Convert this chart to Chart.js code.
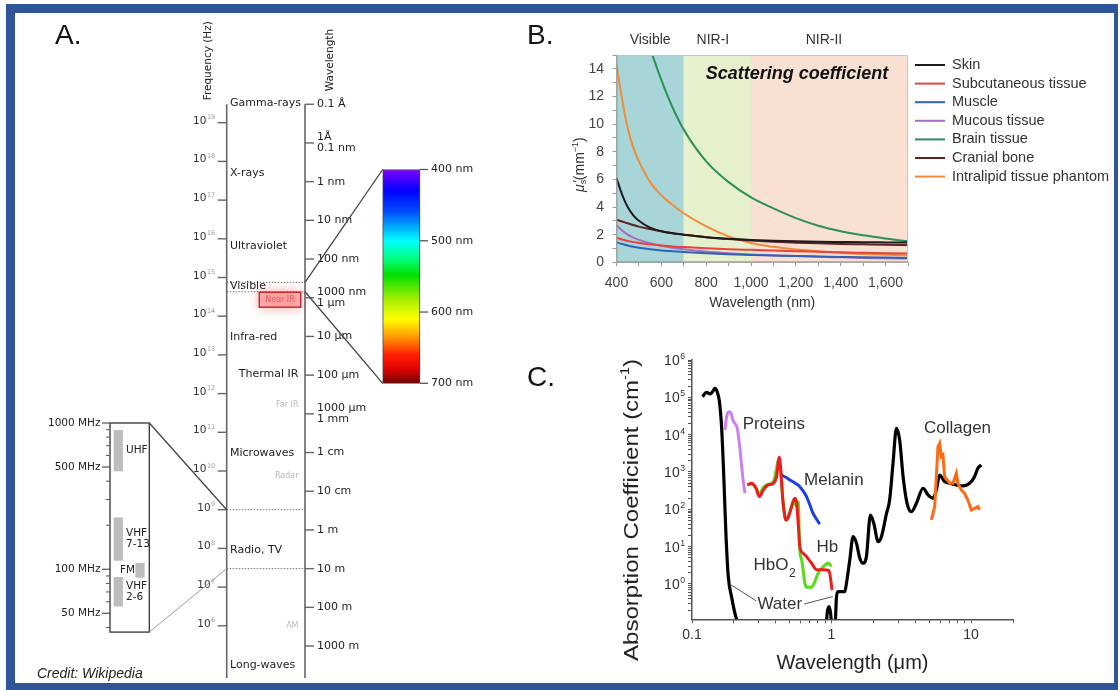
<!DOCTYPE html>
<html>
<head>
<meta charset="utf-8">
<title>Optical windows of tissue</title>
<script src="https://cdn.jsdelivr.net/npm/chart.js@4.4.1/dist/chart.umd.min.js"></script>
<style>
  html, body { margin: 0; padding: 0; background: #fff; }
  #page { position: relative; width: 1120px; height: 690px; overflow: hidden; background: #fff; }
  #page canvas { position: absolute; }
  #frame { position: absolute; left: 6px; top: 4px; width: 1112px; height: 686px; box-sizing: border-box;
           border: solid #2e5597; border-width: 9px 4px 7px 9px; pointer-events: none; }
  .tag { position: absolute; font: 28px "Liberation Sans", Arial, sans-serif; line-height: 28px; color: #111; }
  #credit { position: absolute; left: 37px; top: 666px; font: italic 14px "Liberation Sans", Arial, sans-serif;
            line-height: 14px; color: #222; }
</style>
</head>
<body>
<div id="page">
  <canvas id="spectrum" width="520" height="690" style="left:0;top:0"></canvas>
  <canvas id="scatter" width="580" height="300" style="left:540px;top:20px"></canvas>
  <canvas id="absorb" width="580" height="355" style="left:540px;top:330px"></canvas>
  <div class="tag" style="left:55px;top:21px">A.</div>
  <div class="tag" style="left:527px;top:21px">B.</div>
  <div class="tag" style="left:527px;top:363px">C.</div>
  <div id="credit">Credit: Wikipedia</div>
  <div id="frame"></div>
</div>
<script>
const SANS = '"Liberation Sans", Arial, sans-serif';
const DV = '"DejaVu Sans", sans-serif';
Chart.defaults.font.family = SANS;
Chart.defaults.color = '#444';

// ---------- A. electromagnetic spectrum ----------
const C_LIGHT = 2.998e8;
const FREQ_EXP = [19, 18, 17, 16, 15, 14, 13, 12, 11, 10, 9, 8, 7, 6];
const WAVE_M = [1e-11, 1e-10, 1e-9, 1e-8, 1e-7, 1e-6, 1e-5, 1e-4, 1e-3, 1e-2, 1e-1, 1, 10, 100, 1000];
const WAVE_LABELS = [['0.1 Å'], ['1Å', '0.1 nm'], ['1 nm'], ['10 nm'], ['100 nm'], ['1000 nm', '1 μm'],
  ['10 μm'], ['100 μm'], ['1000 μm', '1 mm'], ['1 cm'], ['10 cm'], ['1 m'], ['10 m'], ['100 m'], ['1000 m']];
const AXIS_LOGHZ = [4.65, Math.log10(C_LIGHT / 1e-11)];
const BAND_NAMES = ['Gamma-rays', 'X-rays', 'Ultraviolet', 'Visible', 'Infra-red', 'Thermal IR', 'Microwaves', 'Radio, TV', 'Long-waves'];
const BAND_LOGHZ = [19.50, 17.69, 15.81, 14.78, 13.47, 12.50, 10.46, 7.96, 4.99];
const BAND_RIGHT = [false, false, false, false, false, true, false, false, false];
const FAINT_NAMES = ['Far IR', 'Radar', 'AM'];
const FAINT_LOGHZ = [11.70, 9.87, 6.0];
const VISIBLE_NM = [400, 700];
const NEAR_IR_M = [0.72e-6, 1.75e-6];
const SPECTRUM_TICKS = [400, 500, 600, 700];
const SPECTRUM_NM = [400, 430, 460, 500, 525, 548, 585, 610, 635, 660, 680, 700];
const SPECTRUM_RGB = ['#8000ff', '#0000ff', '#0050ff', '#00ffff', '#00ff80', '#00e000', '#b0f000',
  '#ffff00', '#ff9900', '#ff2000', '#e00000', '#700000'];
const RADIO_HZ = [1e9, 3e7];
const INSET_MHZ = [37.2, 1000];
const INSET_LABELS = [1000, 500, 100, 50];
const INSET_MINOR = [900, 800, 700, 600, 400, 300, 200, 90, 80, 70, 60, 40];
const RADIO_BANDS = ['UHF', 'VHF 7-13', 'FM', 'VHF 2-6'];
const RADIO_LO = [470, 115, 88, 56];
const RADIO_HI = [890, 225, 110, 88];
const RADIO_COL = [0, 0, 1, 0];

// horizontal layout of the diagram (x scale runs 0..520)
const COL = { insetL: 110, insetR: 149.3, band0: 118.3, band1: 140, freqTitle: 208, freq: 226.7,
  nirL: 259.3, nirR: 300.7, wave: 305, waveTitle: 330, barL: 382.7, barR: 420 };

// vertical placement: value at two pixel rows of the 690px canvas -> scale min/max
function pxRange(v1, p1, v2, p2, h) {
  const k = (v2 - v1) / (p2 - p1);
  const a = v1 - k * p1, b = v1 + k * (h - p1);
  return [Math.min(a, b), Math.max(a, b)];
}
const fR = pxRange(19, 122.7, 6, 625.8, 690);
const mR = pxRange(3, 423, Math.log10(50), 613.3, 690);
const nR = pxRange(400, 169.5, 700, 383.3, 690);

function rainbow(chart) {
  const nm = chart.scales.nm;
  if (!nm) return '#888';
  const y0 = nm.getPixelForValue(400), y1 = nm.getPixelForValue(700);
  if (!isFinite(y0) || !isFinite(y1) || y0 === y1) return '#888';
  const g = chart.ctx.createLinearGradient(0, y0, 0, y1);
  SPECTRUM_NM.forEach((v, i) => g.addColorStop((v - 400) / 300, SPECTRUM_RGB[i]));
  return g;
}

function drawPower(ctx, fam, base, exp, xRight, y, size, color, expColor) {
  ctx.save();
  ctx.textAlign = 'left';
  ctx.textBaseline = 'alphabetic';
  const small = size * 0.62;
  ctx.font = small + 'px ' + fam;
  const ew = ctx.measureText(exp).width;
  ctx.font = size + 'px ' + fam;
  const bw = ctx.measureText(base).width;
  const x0 = xRight - ew - bw - 0.5;
  ctx.fillStyle = color;
  ctx.fillText(base, x0, y);
  ctx.font = small + 'px ' + fam;
  ctx.fillStyle = expColor;
  ctx.fillText(exp, x0 + bw + 0.5, y - size * 0.42);
  ctx.restore();
}

const diagram = {
  id: 'diagram',
  afterDraw(chart) {
    const { ctx } = chart;
    const s = chart.scales;
    const X = v => s.x.getPixelForValue(v);
    const F = v => s.f.getPixelForValue(v);
    const W = m => F(Math.log10(C_LIGHT / m));
    const M = v => s.mhz.getPixelForValue(v);
    const N = v => s.nm.getPixelForValue(v);
    const xf = X(COL.freq), xw = X(COL.wave);

    const line = (x1, y1, x2, y2, color, width, dash) => {
      ctx.save();
      ctx.strokeStyle = color; ctx.lineWidth = width;
      if (dash) ctx.setLineDash(dash);
      ctx.beginPath(); ctx.moveTo(x1, y1); ctx.lineTo(x2, y2); ctx.stroke();
      ctx.restore();
    };
    const text = (str, x, y, font, color, align) => {
      ctx.save();
      ctx.font = font; ctx.fillStyle = color;
      ctx.textAlign = align || 'left'; ctx.textBaseline = 'middle';
      ctx.fillText(str, x, y);
      ctx.restore();
    };
    const f11 = '11px ' + DV;

    // dotted limits of visible light and of the zoomed radio range
    VISIBLE_NM.forEach(v => line(xf, W(v * 1e-9), xw, W(v * 1e-9), '#777', 1, [1.5, 1.5]));
    RADIO_HZ.forEach(hz => line(xf, F(Math.log10(hz)), xw, F(Math.log10(hz)), '#777', 1, [1.5, 1.5]));

    // near-infrared highlight
    const ny1 = W(NEAR_IR_M[0]), ny2 = W(NEAR_IR_M[1]);
    const nx1 = X(COL.nirL), nx2 = X(COL.nirR);
    ctx.save();
    ctx.shadowColor = 'rgba(255,30,30,0.85)';
    ctx.shadowBlur = 12;
    ctx.fillStyle = 'rgba(255,140,140,0.55)';
    ctx.fillRect(nx1, ny1, nx2 - nx1, ny2 - ny1);
    ctx.restore();
    ctx.save();
    ctx.strokeStyle = '#c62828'; ctx.lineWidth = 1.5;
    ctx.strokeRect(nx1, ny1, nx2 - nx1, ny2 - ny1);
    ctx.restore();
    text('Near IR', (nx1 + nx2) / 2, (ny1 + ny2) / 2, '8px ' + DV, 'rgba(185,90,90,0.75)', 'center');

    // frequency and wavelength axes
    line(xf, F(AXIS_LOGHZ[1]), xf, F(AXIS_LOGHZ[0]), '#666', 1.6);
    line(xw, F(AXIS_LOGHZ[1]), xw, F(AXIS_LOGHZ[0]), '#666', 1.6);
    FREQ_EXP.forEach(e => {
      const y = F(e);
      line(xf - 9, y, xf, y, '#666', 1.4);
      drawPower(ctx, DV, '10', String(e), xf - 11.5, y + 1, 10.5, '#333', '#999');
    });
    WAVE_M.forEach((m, i) => {
      const y = W(m);
      line(xw, y, xw + 9, y, '#666', 1.4);
      const lab = WAVE_LABELS[i];
      if (lab.length === 1) text(lab[0], xw + 12, y, f11, '#222');
      else { text(lab[0], xw + 12, y - 5.5, f11, '#222'); text(lab[1], xw + 12, y + 5, f11, '#222'); }
    });

    // axis titles
    [['Frequency (Hz)', COL.freqTitle, 20.6], ['Wavelength', COL.waveTitle, 20.62]].forEach(([t, cx, lf]) => {
      ctx.save();
      ctx.translate(X(cx), F(lf)); ctx.rotate(-Math.PI / 2);
      ctx.font = '10.5px ' + DV; ctx.fillStyle = '#222';
      ctx.textAlign = 'center'; ctx.textBaseline = 'middle';
      ctx.fillText(t, 0, 0);
      ctx.restore();
    });

    // band names
    BAND_NAMES.forEach((n, i) => {
      const y = F(BAND_LOGHZ[i]);
      if (BAND_RIGHT[i]) text(n, xw - 6.5, y, f11, '#222', 'right');
      else text(n, xf + 3.3, y, f11, '#222', 'left');
    });
    FAINT_NAMES.forEach((n, i) => text(n, xw - 6.5, F(FAINT_LOGHZ[i]), '8px ' + DV, '#b8b8b8', 'right'));

    // visible spectrum scale
    const xr = X(COL.barR);
    SPECTRUM_TICKS.forEach(v => {
      const y = N(v);
      line(xr, y, xr + 8, y, '#555', 1.3);
      text(v + ' nm', xr + 11, y, f11, '#222');
    });
    line(xw, W(VISIBLE_NM[0] * 1e-9), X(COL.barL), N(VISIBLE_NM[0]), '#444', 1.3);
    line(xw, W(VISIBLE_NM[1] * 1e-9), X(COL.barL), N(VISIBLE_NM[1]), '#444', 1.3);

    // TV / FM inset
    const xl = X(COL.insetL), xi = X(COL.insetR);
    ctx.save();
    ctx.strokeStyle = '#333'; ctx.lineWidth = 1.3;
    ctx.strokeRect(xl, M(INSET_MHZ[1]), xi - xl, M(INSET_MHZ[0]) - M(INSET_MHZ[1]));
    ctx.restore();
    INSET_MINOR.forEach(v => line(xl - 4, M(v), xl, M(v), '#555', 1));
    INSET_LABELS.forEach(v => {
      line(xl - 8, M(v), xl, M(v), '#555', 1.2);
      text(v + ' MHz', xl - 9.5, M(v), '10.5px ' + DV, '#222', 'right');
    });
    RADIO_BANDS.forEach((b, i) => {
      const y = M(Math.sqrt(RADIO_LO[i] * RADIO_HI[i]));
      const parts = b.split(' ');
      const right = RADIO_COL[i] === 1;
      const x = right ? X(COL.band1) - 5 : X(COL.band0) + 7.7;
      const al = right ? 'right' : 'left';
      if (parts.length === 1) text(parts[0], x, y, '10.5px ' + DV, '#222', al);
      else { text(parts[0], x, y - 5.5, '10.5px ' + DV, '#222', al); text(parts[1], x, y + 5.5, '10.5px ' + DV, '#222', al); }
    });
    line(xi, M(INSET_MHZ[1]), xf, F(Math.log10(RADIO_HZ[0])), '#444', 1.3);
    line(xi, M(INSET_MHZ[0]), xf, F(Math.log10(RADIO_HZ[1])), '#999', 1);
  }
};

new Chart(document.getElementById('spectrum'), {
  type: 'scatter',
  data: {
    datasets: [
      { type: 'bar', label: 'TV and FM bands', yAxisID: 'mhz', grouped: false, barThickness: 8.6,
        backgroundColor: '#bdbdbd',
        data: RADIO_BANDS.map((b, i) => ({ x: RADIO_COL[i] ? COL.band1 : COL.band0, y: [RADIO_LO[i], RADIO_HI[i]] })) },
      { type: 'bar', label: 'Visible light', yAxisID: 'nm', grouped: false, barThickness: 37.3,
        borderColor: '#444', borderWidth: 1, borderSkipped: false,
        backgroundColor: c => rainbow(c.chart),
        data: [{ x: (COL.barL + COL.barR) / 2, y: [SPECTRUM_TICKS[0], SPECTRUM_TICKS[3]] }] }
    ]
  },
  options: {
    responsive: false, animation: false, devicePixelRatio: 1,
    layout: { padding: 0 },
    plugins: { legend: { display: false }, tooltip: { enabled: false } },
    scales: {
      x: { type: 'linear', min: 0, max: 520, offset: false, display: false },
      y: { type: 'linear', display: false },
      f: { type: 'linear', axis: 'y', min: fR[0], max: fR[1], display: false },
      mhz: { type: 'logarithmic', axis: 'y', min: 10 ** mR[0], max: 10 ** mR[1], display: false },
      nm: { type: 'linear', axis: 'y', reverse: true, min: nR[0], max: nR[1], display: false }
    }
  },
  plugins: [diagram]
});

// ---------- B. reduced scattering coefficient ----------
const NM = [400, 425, 450, 475, 500, 550, 600, 650, 700, 800, 900, 1000, 1100, 1200, 1300, 1400, 1500, 1600, 1700];
const SKIN =         [6.1, 4.9, 4.0, 3.4, 3.0, 2.5, 2.25, 2.1, 2.0, 1.82, 1.7, 1.62, 1.56, 1.52, 1.49, 1.47, 1.45, 1.44, 1.43];
const SUBCUTANEOUS = [1.78, 1.65, 1.55, 1.46, 1.4, 1.3, 1.22, 1.15, 1.1, 1.02, 0.95, 0.9, 0.85, 0.8, 0.76, 0.72, 0.69, 0.66, 0.63];
const MUSCLE =       [1.45, 1.32, 1.21, 1.12, 1.05, 0.94, 0.86, 0.8, 0.75, 0.66, 0.59, 0.53, 0.49, 0.45, 0.42, 0.39, 0.36, 0.34, 0.32];
const MUCOUS =       [2.7, 2.3, 2.0, 1.78, 1.62, 1.38, 1.2, 1.06, 0.95, 0.78, 0.66, 0.57, 0.5, 0.45, 0.4, 0.36, 0.32, 0.29, 0.27];
const BRAIN =        [30, 26, 23, 20.5, 18.3, 15.5, 13.2, 11.2, 9.6, 7.3, 5.8, 4.7, 3.9, 3.2, 2.65, 2.25, 1.95, 1.72, 1.52];
const CRANIAL =      [3.08, 2.95, 2.82, 2.7, 2.58, 2.4, 2.24, 2.1, 2.0, 1.82, 1.68, 1.57, 1.48, 1.42, 1.37, 1.33, 1.3, 1.27, 1.25];
const INTRALIPID =   [14.3, 11.8, 9.7, 8.3, 7.3, 5.8, 4.85, 4.15, 3.55, 2.6, 1.88, 1.4, 1.12, 0.92, 0.8, 0.68, 0.6, 0.54, 0.5];
const TISSUES = ['Skin', 'Subcutaneous tissue', 'Muscle', 'Mucous tissue', 'Brain tissue', 'Cranial bone', 'Intralipid tissue phantom'];
const TISSUE_DATA = [SKIN, SUBCUTANEOUS, MUSCLE, MUCOUS, BRAIN, CRANIAL, INTRALIPID];
const TISSUE_COLORS = ['#1f1a1c', '#e5433d', '#2f63b5', '#a56bc3', '#2e9058', '#5e2326', '#f08c3a'];
const WINDOWS = ['Visible', 'NIR-I', 'NIR-II'];
const WINDOW_FROM = [400, 700, 1000];
const WINDOW_TO = [700, 1000, 1700];
const WINDOW_LABEL_NM = [550, 830, 1325];
const WINDOW_FILL = ['#a8d6d8', '#e6f0cd', '#f8e0d2'];

const windowsPlugin = {
  id: 'windows',
  beforeDatasetsDraw(chart) {
    const { ctx, chartArea: a, scales: { x } } = chart;
    ctx.save();
    WINDOWS.forEach((w, i) => {
      const x1 = x.getPixelForValue(WINDOW_FROM[i]), x2 = x.getPixelForValue(WINDOW_TO[i]);
      ctx.fillStyle = WINDOW_FILL[i];
      ctx.fillRect(x1, a.top, x2 - x1, a.bottom - a.top);
    });
    ctx.restore();
  },
  afterDraw(chart) {
    const { ctx, chartArea: a, scales: { x, y } } = chart;
    ctx.save();
    // plot frame
    ctx.lineWidth = 1;
    ctx.strokeStyle = '#c4c4c4';
    ctx.beginPath(); ctx.moveTo(a.left, a.top + 0.5); ctx.lineTo(a.right - 0.5, a.top + 0.5); ctx.lineTo(a.right - 0.5, a.bottom); ctx.stroke();
    ctx.strokeStyle = '#999';
    ctx.beginPath(); ctx.moveTo(a.left + 0.5, a.top); ctx.lineTo(a.left + 0.5, a.bottom - 0.5); ctx.lineTo(a.right, a.bottom - 0.5); ctx.stroke();

    // window names above the plot
    ctx.font = '14px ' + SANS; ctx.fillStyle = '#333';
    ctx.textAlign = 'center'; ctx.textBaseline = 'middle';
    WINDOWS.forEach((w, i) => ctx.fillText(w, x.getPixelForValue(WINDOW_LABEL_NM[i]), a.top - 15));

    // panel title
    ctx.font = 'italic bold 18px ' + SANS; ctx.fillStyle = '#111';
    ctx.fillText('Scattering coefficient', x.getPixelForValue(1205), y.getPixelForValue(13.6));

    // legend
    ctx.textAlign = 'left';
    chart.data.datasets.forEach((d, i) => {
      const ly = a.top + 10 + i * 18.6;
      ctx.strokeStyle = d.borderColor; ctx.lineWidth = 2;
      ctx.beginPath(); ctx.moveTo(a.right + 7, ly); ctx.lineTo(a.right + 37, ly); ctx.stroke();
      ctx.font = '14.5px ' + SANS; ctx.fillStyle = '#333';
      ctx.fillText(d.label, a.right + 44, ly);
    });

    // y title  mu_s'(mm^-1)
    const parts = [
      { t: 'μ', f: 'italic 14px ' + SANS, dy: 0 },
      { t: 's', f: '9.5px ' + SANS, dy: 3.5 },
      { t: '′', f: '13px ' + SANS, dy: -2, back: 3 },
      { t: '(mm', f: '14px ' + SANS, dy: 0 },
      { t: '−1', f: '9px ' + SANS, dy: -4.5 },
      { t: ')', f: '14px ' + SANS, dy: 0 }
    ];
    ctx.translate(a.left - 36.5, (a.top + a.bottom) / 2 + 6);
    ctx.rotate(-Math.PI / 2);
    let total = 0;
    parts.forEach(p => { ctx.font = p.f; p.w = ctx.measureText(p.t).width - (p.back || 0); total += p.w; });
    let px = -total / 2;
    ctx.fillStyle = '#333'; ctx.textBaseline = 'middle';
    parts.forEach(p => { ctx.font = p.f; ctx.fillText(p.t, px - (p.back || 0), p.dy); px += p.w; });
    ctx.restore();
  }
};

new Chart(document.getElementById('scatter'), {
  type: 'line',
  data: {
    datasets: TISSUES.map((t, i) => ({
      label: t,
      data: NM.map((nm, k) => ({ x: nm, y: TISSUE_DATA[i][k] })),
      borderColor: TISSUE_COLORS[i], borderWidth: 2, pointRadius: 0,
      cubicInterpolationMode: 'monotone', fill: false
    }))
  },
  options: {
    responsive: false, animation: false, devicePixelRatio: 1,
    layout: { padding: { left: 0, top: 35, right: 212, bottom: 0 } },
    plugins: { legend: { display: false }, tooltip: { enabled: false } },
    scales: {
      x: {
        type: 'linear', min: 400, max: 1700,
        afterFit: sc => { sc.height = 57.7; },
        grid: { drawOnChartArea: false, drawTicks: true, tickLength: 4, color: '#999' },
        border: { display: true, color: '#999' },
        ticks: { stepSize: 100, autoSkip: false, maxRotation: 0, padding: 8, color: '#444', font: { size: 14 },
          callback: v => (v % 200 === 0 && v <= 1600) ? v.toLocaleString('en-US') : '' },
        title: { display: true, text: 'Wavelength (nm)', color: '#333', font: { size: 14 }, padding: { top: 0, bottom: 8 } }
      },
      y: {
        type: 'linear', min: 0, max: 15,
        afterFit: sc => { sc.width = 76.5; },
        grid: { drawOnChartArea: false, drawTicks: true, tickLength: 4, color: '#999' },
        border: { display: true, color: '#999' },
        ticks: { stepSize: 1, autoSkip: false, padding: 8.5, color: '#444', font: { size: 14 },
          callback: v => (v % 2 === 0 && v <= 14) ? String(v) : '' }
      }
    }
  },
  plugins: [windowsPlugin]
});

// ---------- C. absorption spectra ----------
const WATER_UV_UM = [0.119, 0.127, 0.135, 0.141, 0.146, 0.152, 0.157, 0.163, 0.169, 0.175, 0.182, 0.192, 0.206, 0.215];
const WATER_UV_ABS = [1.04e5, 1.36e5, 1.23e5, 1.45e5, 1.74e5, 1.36e5, 8.1e4, 1.58e4, 750, 22.7, 1.57, 0.457, 0.133, 0.09];
const WATER_IR_UM = [0.92, 0.931, 0.961, 0.985, 1.005, 1.06, 1.086, 1.115, 1.245, 1.28, 1.352, 1.429, 1.51, 1.595, 1.684,
  1.779, 1.9, 2.01, 2.16, 2.28, 2.48, 2.61, 2.76, 2.92, 3.08, 3.26, 3.48, 3.74, 4.06, 4.53, 4.92, 5.34, 5.64, 5.96, 6.47,
  7.03, 7.85, 8.75, 9.77, 10.6, 11.2, 11.85];
const WATER_IR_ABS = [0.08, 0.164, 0.247, 0.164, 0.08, 0.08, 0.458, 0.62, 0.62, 1.04, 4.4, 18.5, 12.3, 4.9, 3.6,
  5.4, 70, 42, 13.6, 18.5, 78, 178, 1700, 1.48e4, 7200, 750, 145, 86, 145, 366, 242, 197, 330, 830, 551,
  498, 449, 422, 498, 750, 1260, 1540];
const PROTEIN_UM = [0.172, 0.177, 0.184, 0.19, 0.196, 0.203, 0.211, 0.221, 0.231, 0.24];
const PROTEIN_ABS = [1.33e4, 3.03e4, 4.13e4, 3.88e4, 2.47e4, 2.01e4, 1.48e4, 3900, 750, 268];
const HB_UM = [0.249, 0.267, 0.287, 0.304, 0.325, 0.352, 0.383, 0.404, 0.422, 0.431, 0.446, 0.456, 0.471, 0.49, 0.515,
  0.546, 0.562, 0.577, 0.593, 0.626, 0.662, 0.719, 0.781, 0.871, 0.958, 1.01];
const HB_ABS = [449, 498, 374, 219, 330, 449, 498, 750, 2470, 1390, 219, 96, 52, 60, 110,
  197, 150, 42, 10, 6.6, 5.4, 3.6, 2.4, 2.4, 2.3, 0.69];
const HBO2_UM = [0.249, 0.267, 0.287, 0.304, 0.325, 0.352, 0.383, 0.404, 0.416, 0.431, 0.446, 0.456, 0.471, 0.5, 0.542,
  0.558, 0.577, 0.593, 0.61, 0.626, 0.644, 0.668, 0.719, 0.759, 0.802, 0.871, 0.946, 1.0];
const HBO2_ABS = [449, 480, 380, 260, 390, 470, 540, 1300, 2100, 1200, 219, 96, 52, 80, 190,
  120, 160, 8.1, 4.5, 2.4, 1.04, 0.81, 0.81, 1.15, 1.93, 2.9, 3.6, 3.0];
const MELANIN_UM = [0.438, 0.47, 0.503, 0.55, 0.593, 0.63, 0.662, 0.7, 0.738, 0.78, 0.824];
const MELANIN_ABS = [830, 720, 611, 500, 404, 300, 219, 130, 78, 55, 40];
const COLLAGEN_UM = [5.2, 5.49, 5.64, 5.8, 5.96, 6.12, 6.29, 6.47, 7.03, 7.43, 7.85, 8.06, 8.52, 8.99, 9.5, 10.04, 10.6, 11.2, 11.5];
const COLLAGEN_ABS = [52, 118, 750, 4760, 5870, 2570, 2850, 750, 498, 498, 922, 498, 330, 268, 178, 96, 106, 118, 96];
const UM_RANGE = [0.1, 20];
const ABS_RANGE = [0.113, 1e6];
const LABEL_TEXT = ['Proteins', 'Melanin', 'Collagen', 'Hb', 'HbO2', 'Water'];
const LABEL_UM = [0.386, 1.039, 8.0, 0.933, 0.368, 0.426];
const LABEL_ABS = [1.93e4, 611, 1.5e4, 9.8, 3.2, 0.29];
const WATER_POINT_UM = [0.186, 1.02];
const WATER_POINT_ABS = [1.0, 0.46];

function pairs(xs, ys) { return xs.map((x, i) => ({ x, y: ys[i] })); }
function logTicks(lo, hi) {
  const t = [];
  for (let e = -1; e <= 6; e++) for (let m = 1; m < 10; m++) {
    const v = m * 10 ** e;
    if (v >= lo * 0.999 && v <= hi * 1.001) t.push({ value: v });
  }
  return t;
}

const absorbLabels = {
  id: 'absorbLabels',
  afterDraw(chart) {
    const { ctx, chartArea: a, scales: { x, y } } = chart;
    ctx.save();
    // decade labels on the y axis
    for (let e = 0; e <= 6; e++) drawPower(ctx, SANS, '10', String(e), a.left - 7, y.getPixelForValue(10 ** e) + 5, 14, '#333', '#333');

    // curve names
    ctx.fillStyle = '#333'; ctx.textBaseline = 'middle'; ctx.textAlign = 'center';
    let waterBox = null;
    LABEL_TEXT.forEach((t, i) => {
      const lx = x.getPixelForValue(LABEL_UM[i]), ly = y.getPixelForValue(LABEL_ABS[i]);
      ctx.font = '17px ' + SANS;
      if (t === 'HbO2') {
        const w = ctx.measureText('HbO').width;
        ctx.fillText('HbO', lx, ly);
        ctx.font = '12px ' + SANS; ctx.textAlign = 'left';
        ctx.fillText('2', lx + w / 2 + 0.5, ly + 9);
        ctx.textAlign = 'center';
      } else {
        ctx.fillText(t, lx, ly);
      }
      if (t === 'Water') waterBox = { lx, ly, w: ctx.measureText(t).width };
    });

    // leader lines from "Water" to the curve
    ctx.strokeStyle = '#555'; ctx.lineWidth = 1;
    const ends = [[waterBox.lx - waterBox.w / 2 - 1, waterBox.ly - 3], [waterBox.lx + waterBox.w / 2 + 2, waterBox.ly]];
    ends.forEach(([sx, sy], i) => {
      ctx.beginPath(); ctx.moveTo(sx, sy);
      ctx.lineTo(x.getPixelForValue(WATER_POINT_UM[i]), y.getPixelForValue(WATER_POINT_ABS[i])); ctx.stroke();
    });

    // y title, drawn stretched along its length
    ctx.translate(a.left - 60, a.top + 150);
    ctx.rotate(-Math.PI / 2);
    ctx.scale(1.2, 1);
    ctx.fillStyle = '#222'; ctx.textAlign = 'left'; ctx.textBaseline = 'middle';
    const main = 'Absorption Coefficient (cm', sup = '-1', close = ')';
    ctx.font = '20px ' + SANS;
    const w1 = ctx.measureText(main).width, w3 = ctx.measureText(close).width;
    ctx.font = '12px ' + SANS;
    const w2 = ctx.measureText(sup).width;
    let sx = -(w1 + w2 + w3) / 2;
    ctx.font = '20px ' + SANS; ctx.fillText(main, sx, 0); sx += w1;
    ctx.font = '12px ' + SANS; ctx.fillText(sup, sx, -6); sx += w2;
    ctx.font = '20px ' + SANS; ctx.fillText(close, sx, 0);
    ctx.restore();
  }
};

const curve = (label, xs, ys, color, width, order, smooth) => ({
  label, data: pairs(xs, ys), borderColor: color, borderWidth: width, pointRadius: 0, order,
  cubicInterpolationMode: smooth ? 'monotone' : 'default', tension: 0, fill: false
});

new Chart(document.getElementById('absorb'), {
  type: 'line',
  data: {
    datasets: [
      curve('Hb', HB_UM, HB_ABS, '#ee1c1c', 3, 0, true),
      curve('Melanin', MELANIN_UM, MELANIN_ABS, '#1c3fe0', 3, 1, true),
      curve('HbO2', HBO2_UM, HBO2_ABS, '#55dd1a', 3, 2, true),
      curve('Proteins', PROTEIN_UM, PROTEIN_ABS, '#cc80f0', 3, 3, true),
      curve('Collagen', COLLAGEN_UM, COLLAGEN_ABS, '#ff6a12', 3, 4, false),
      curve('Water', WATER_IR_UM, WATER_IR_ABS, '#000000', 3.2, 5, true),
      curve('Water (UV)', WATER_UV_UM, WATER_UV_ABS, '#000000', 3.2, 6, true)
    ]
  },
  options: {
    responsive: false, animation: false, devicePixelRatio: 1,
    layout: { padding: { left: 0, top: 30, right: 107, bottom: 0 } },
    plugins: { legend: { display: false }, tooltip: { enabled: false } },
    scales: {
      x: {
        type: 'logarithmic', min: UM_RANGE[0], max: UM_RANGE[1],
        afterFit: sc => { sc.height = 65.7; },
        afterBuildTicks: sc => { sc.ticks = logTicks(UM_RANGE[0], UM_RANGE[1]); },
        grid: { drawOnChartArea: false, drawTicks: true, tickLength: 4, color: '#555' },
        border: { display: true, color: '#555', width: 1.5 },
        ticks: { autoSkip: false, maxRotation: 0, padding: 3, color: '#333', font: { size: 14 },
          callback: v => (v === 0.1 || v === 1 || v === 10) ? String(v) : '' },
        title: { display: true, text: 'Wavelength (μm)', color: '#222', font: { size: 20 }, padding: { top: 0, bottom: 10 } }
      },
      y: {
        type: 'logarithmic', min: ABS_RANGE[0], max: ABS_RANGE[1],
        afterFit: sc => { sc.width = 152; },
        afterBuildTicks: sc => { sc.ticks = logTicks(ABS_RANGE[0], ABS_RANGE[1]); },
        grid: { drawOnChartArea: false, drawTicks: true, tickLength: 4, color: '#555' },
        border: { display: true, color: '#555', width: 1.5 },
        ticks: { autoSkip: false, color: '#333', callback: () => '' }
      }
    }
  },
  plugins: [absorbLabels]
});
</script>
</body>
</html>
